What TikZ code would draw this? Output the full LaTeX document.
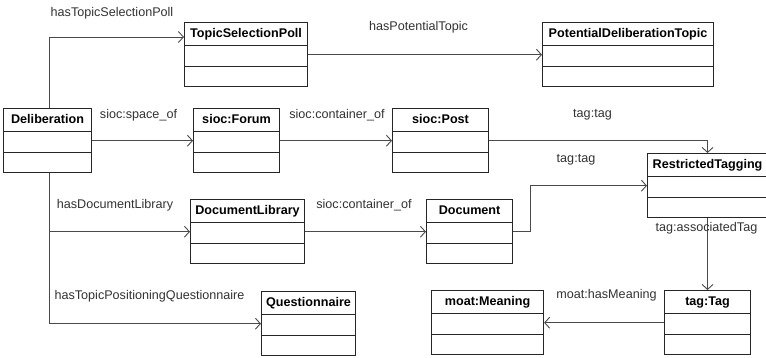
\documentclass[tikz,border=0pt]{standalone}
\usepackage{fontspec}
\setmainfont{Liberation Sans}
\usetikzlibrary{shapes.multipart,arrows.meta}
\definecolor{cline}{HTML}{4a4a4a}
\definecolor{clabel}{HTML}{333333}
\newcommand{\hdstrut}{\rule[-8pt]{0pt}{22pt}}
\newcommand{\midstrut}{\rule{0pt}{20pt}}
\newcommand{\lowstrut}{\rule{0pt}{19pt}}

\begin{document}
\begin{tikzpicture}[x=1pt,y=-1pt,
  class/.style={draw=black!85,line width=1.1pt,rectangle split,rectangle split parts=3,
    inner xsep=0pt,inner ysep=0pt,align=center,anchor=north west,
    font=\fontsize{12.6}{15}\selectfont\bfseries},
  rel/.style={font=\fontsize{12.6}{15}\selectfont,text=clabel,inner sep=0pt},
  link/.style={draw=cline,line width=0.9pt,-{Straight Barb[length=5pt,width=11pt]}}]
  \fill[white] (0,0) rectangle (766,357);
  \useasboundingbox (0,0) rectangle (766,357);

  % classes
  \node[class,text width=88pt] (delib) at (3,108) {\hdstrut Deliberation
    \nodepart{two}\midstrut \nodepart{three}\lowstrut};
  \node[class,text width=123pt] (tsp) at (184,22) {\hdstrut TopicSelectionPoll
    \nodepart{two}\midstrut \nodepart{three}\lowstrut};
  \node[class,text width=171pt] (pdt) at (542,22) {\hdstrut PotentialDeliberationTopic
    \nodepart{two}\midstrut \nodepart{three}\lowstrut};
  \node[class,text width=86pt] (forum) at (193,108) {\hdstrut sioc:Forum
    \nodepart{two}\midstrut \nodepart{three}\lowstrut};
  \node[class,text width=96pt] (post) at (392,108) {\hdstrut sioc:Post
    \nodepart{two}\midstrut \nodepart{three}\lowstrut};
  \node[class,text width=120pt] (rt) at (647,153) {\hdstrut RestrictedTagging
    \nodepart{two}\midstrut \nodepart{three}\lowstrut};
  \node[class,text width=114pt] (doclib) at (190,199) {\hdstrut DocumentLibrary
    \nodepart{two}\midstrut \nodepart{three}\lowstrut};
  \node[class,text width=86pt] (doc) at (426,199) {\hdstrut Document
    \nodepart{two}\midstrut \nodepart{three}\lowstrut};
  \node[class,text width=94pt] (quest) at (261,291) {\hdstrut Questionnaire
    \nodepart{two}\midstrut \nodepart{three}\lowstrut};
  \node[class,text width=112pt] (meaning) at (431,290) {\hdstrut moat:Meaning
    \nodepart{two}\midstrut \nodepart{three}\lowstrut};
  \node[class,text width=86pt] (tag) at (664,290) {\hdstrut tag:Tag
    \nodepart{two}\midstrut \nodepart{three}\lowstrut};

  % properties
  \draw[link] ([xshift=2pt]delib.north) |- ([yshift=-15pt]tsp.north west);
  \draw[link] (tsp.east) -- (pdt.west);
  \draw[link] (delib.east) -- (forum.west);
  \draw[link] (forum.east) -- (post.west);
  \draw[link] (post.east) -| (rt.north);
  \draw[link] ([xshift=2pt]delib.south) |- (doclib.west);
  \draw[link] ([xshift=2pt]delib.south) |- (quest.west);
  \draw[link] (doclib.east) -- (doc.west);
  \draw[link] (doc.east) -- ++(17,0) |- (rt.west);
  \draw[link] (rt.south) -- (tag.north);
  \draw[link] (tag.west) -- (meaning.east);

  % property names
  \node[rel] (l-tsp) at (112,13) {hasTopicSelectionPoll};
  \node[rel] (l-pot) at (418.5,27) {hasPotentialTopic};
  \node[rel] (l-space) at (138.5,115) {sioc:space\_of};
  \node[rel] (l-cont1) at (337,115) {sioc:container\_of};
  \node[rel] (l-tag1) at (592.5,115) {tag:tag};
  \node[rel] (l-tag2) at (576,160) {tag:tag};
  \node[rel] (l-lib) at (115,205) {hasDocumentLibrary};
  \node[rel] (l-cont2) at (364,205) {sioc:container\_of};
  \node[rel] (l-quest) at (149.5,296) {hasTopicPositioningQuestionnaire};
  \node[rel] (l-assoc) at (706.5,228) {tag:associatedTag};
  \node[rel] (l-mean) at (606.5,295) {moat:hasMeaning};
\end{tikzpicture}
\end{document}
